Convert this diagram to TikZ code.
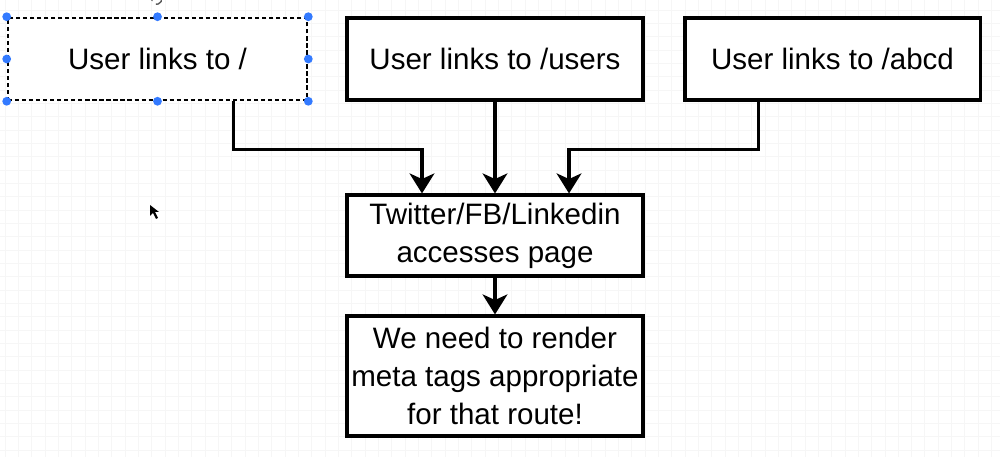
\documentclass[tikz,border=0pt]{standalone}
\usepackage{fontspec}
\setmainfont{Liberation Sans}
\usetikzlibrary{arrows.meta}
\begin{document}
\begin{tikzpicture}[
  x=0.025cm, y=-0.025cm,
  box/.style={draw, line width=2.2pt, fill=white, minimum width=7.4cm,
    minimum height=2.05cm, align=center, inner sep=2pt,
    font=\fontsize{21}{27}\selectfont},
  link/.style={line width=2.2pt, -{Stealth[length=0.5cm, width=0.62cm, inset=0.14cm]}},
  handle/.style={circle, fill=blue!65!cyan!80!white, inner sep=0pt, minimum size=0.22cm}
]
  \useasboundingbox (0,0) rectangle (1000,457);
  % Raster im Hintergrund
  \foreach \i in {0,...,75} {
    \draw[gray!7, line width=0.4pt] (5+13.33*\i,0) -- (5+13.33*\i,457);
  }
  \foreach \i in {0,...,34} {
    \draw[gray!7, line width=0.4pt] (0,10+13.33*\i) -- (1000,10+13.33*\i);
  }
  % Knoten
  \node[box, minimum width=7.475cm, densely dashed, line width=1.8pt] (root) at (157.5,59) {User links to /};
  \node[box] (users) at (495,59) {User links to /users};
  \node[box, minimum width=7.375cm] (abcd) at (832.5,59) {User links to /abcd};
  \node[box, minimum height=2.025cm] (crawler) at (495,235.5) {Twitter/FB/Linkedin\\accesses page};
  \node[box, minimum height=3cm] (meta) at (495,376) {We need to render\\meta tags appropriate\\for that route!};
  % Verbindungen
  \draw[link] ([xshift=1.89cm]root.south) -- ++(0,48) -| ([xshift=-1.825cm]crawler.north);
  \draw[link] (users) -- (crawler);
  \draw[link] ([xshift=-1.84cm]abcd.south) -- ++(0,48) -| ([xshift=1.85cm]crawler.north);
  \draw[link] (crawler) -- (meta);
  % Auswahl-Griffe
  \foreach \a in {north west, north, north east, east, south east, south, south west, west} {
    \node[handle] at (root.\a) {};
  }
  \draw[gray!70!black, line width=1pt] (152,1) arc[start angle=200, end angle=-100, radius=0.125cm];
  % Mauszeiger
  \fill[black] (150,205) -- (150,216) -- (153,213) -- (156,219) -- (158,218) -- (155,212) -- (159,212) -- cycle;
\end{tikzpicture}
\end{document}
